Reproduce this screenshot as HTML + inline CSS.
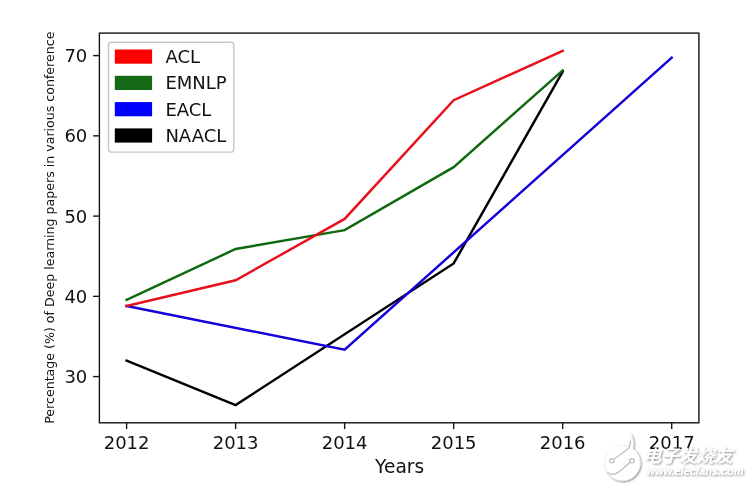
<!DOCTYPE html>
<html lang="en"><head><meta charset="utf-8"><title>Deep learning papers chart</title>
<style>html,body{margin:0;padding:0;background:#fff}body{width:752px;height:488px;overflow:hidden}svg{display:block;will-change:transform}text{font-family:"DejaVu Sans","Liberation Sans",sans-serif;fill:#111}</style></head><body>
<svg width="752" height="488" viewBox="0 0 752 488">
<defs><filter id="sh" x="-20%" y="-20%" width="150%" height="150%"><feGaussianBlur in="SourceAlpha" stdDeviation="0.8"/><feOffset dx="1.1" dy="1.1" result="o"/><feComponentTransfer><feFuncA type="linear" slope="0.5"/></feComponentTransfer><feMerge><feMergeNode/><feMergeNode in="SourceGraphic"/></feMerge></filter><filter id="sb" x="-20%" y="-20%" width="150%" height="150%"><feGaussianBlur in="SourceAlpha" stdDeviation="1.2"/><feOffset dx="1.3" dy="1.3"/><feComponentTransfer><feFuncA type="linear" slope="0.5"/></feComponentTransfer><feMerge><feMergeNode/><feMergeNode in="SourceGraphic"/></feMerge></filter></defs>
<rect width="752" height="488" fill="#ffffff"/>
<g fill="none" stroke-width="2.45" stroke-linejoin="miter" stroke-linecap="square">
<polyline stroke="#000000" points="126.60,360.55 235.62,405.09 453.66,263.45 562.68,71.65"/>
<polyline stroke="#1400d8" points="126.60,305.98 344.64,349.72 671.70,57.61"/>
<polyline stroke="#10690f" points="126.60,299.96 235.62,249.00 344.64,230.14 453.66,167.15 562.68,70.45"/>
<polyline stroke="#e8101c" points="126.60,305.98 235.62,280.30 344.64,218.91 453.66,100.14 562.68,50.79"/>
</g>
<rect x="99.40" y="33.10" width="599.50" height="389.70" fill="none" stroke="#141414" stroke-width="1.4"/>
<g stroke="#141414" stroke-width="1.4">
<line x1="126.60" y1="422.80" x2="126.60" y2="429.10"/>
<line x1="235.62" y1="422.80" x2="235.62" y2="429.10"/>
<line x1="344.64" y1="422.80" x2="344.64" y2="429.10"/>
<line x1="453.66" y1="422.80" x2="453.66" y2="429.10"/>
<line x1="562.68" y1="422.80" x2="562.68" y2="429.10"/>
<line x1="671.70" y1="422.80" x2="671.70" y2="429.10"/>
<line x1="93.10" y1="376.60" x2="99.40" y2="376.60"/>
<line x1="93.10" y1="296.35" x2="99.40" y2="296.35"/>
<line x1="93.10" y1="216.10" x2="99.40" y2="216.10"/>
<line x1="93.10" y1="135.85" x2="99.40" y2="135.85"/>
<line x1="93.10" y1="55.60" x2="99.40" y2="55.60"/>
</g>
<g font-size="18">
<text x="126.60" y="449.2" text-anchor="middle">2012</text>
<text x="235.62" y="449.2" text-anchor="middle">2013</text>
<text x="344.64" y="449.2" text-anchor="middle">2014</text>
<text x="453.66" y="449.2" text-anchor="middle">2015</text>
<text x="562.68" y="449.2" text-anchor="middle">2016</text>
<text x="671.70" y="449.2" text-anchor="middle">2017</text>
<text x="87.3" y="383.20" text-anchor="end">30</text>
<text x="87.3" y="302.95" text-anchor="end">40</text>
<text x="87.3" y="222.70" text-anchor="end">50</text>
<text x="87.3" y="142.45" text-anchor="end">60</text>
<text x="87.3" y="62.20" text-anchor="end">70</text>
<text x="399.6" y="473.3" text-anchor="middle" font-size="18.6">Years</text>
</g>
<text font-size="12.6" text-anchor="middle" transform="translate(54.3,227.7) rotate(-90)">Percentage (%) of Deep learning papers in various conference</text>
<rect x="108.5" y="42.3" width="125.3" height="109.8" rx="3.2" ry="3.2" fill="#ffffff" fill-opacity="0.8" stroke="#c8c8c8" stroke-width="1.45"/>
<rect x="114.8" y="49.50" width="37.3" height="14.2" fill="#ff0000"/>
<text x="165.4" y="62.95" font-size="18">ACL</text>
<rect x="114.8" y="75.80" width="37.3" height="14.2" fill="#156b15"/>
<text x="165.4" y="89.25" font-size="18">EMNLP</text>
<rect x="114.8" y="102.10" width="37.3" height="14.2" fill="#0000ff"/>
<text x="165.4" y="115.55" font-size="18">EACL</text>
<rect x="114.8" y="128.40" width="37.3" height="14.2" fill="#000000"/>
<text x="165.4" y="141.85" font-size="18">NAACL</text>
<g id="wm">
<g filter="url(#sb)"><path d="M622.5,445.6 C624.6,445.6 626.6,446 628.4,446.7 C629.9,444.6 630.5,441.5 630.3,438 C630.2,436 630.4,434.4 630.8,433.4 C631.6,435.6 632.6,438.6 633,441.6 C633.3,444.2 633.2,446.6 632.6,448.7 C637.1,451.9 640,457.1 640,463 A17.5,17.5 0 1 1 622.5,445.6 Z" fill="#ffffff" stroke="#f3f3f3" stroke-width="0.7"/></g>
<g fill="none" stroke="#b9b9b9" stroke-width="1.15" stroke-linecap="round" stroke-linejoin="round">
<path d="M630.4,441 C630.6,445.4 629.6,448.2 626.6,450 L613.6,459.4"/>
<circle cx="611.8" cy="460.8" r="2.2"/>
<circle cx="632" cy="460.8" r="2.2"/>
<path d="M630.2,462.3 L619.2,471.8 C616.6,474 613.4,474.8 610.8,474.2 C609.6,473.9 608.6,473.3 608,472.6"/>
</g>
<g filter="url(#sh)">
<text x="643.6" y="461.8" font-size="17.4" font-weight="500" font-style="italic" textLength="89" lengthAdjust="spacingAndGlyphs" style="font-family:'Liberation Sans','Noto Sans CJK SC',sans-serif;fill:#ffffff">电子发烧友</text>
<text x="646.6" y="475.3" font-size="11" font-weight="700" font-style="italic" textLength="96.8" lengthAdjust="spacingAndGlyphs" style="font-family:'Liberation Sans',sans-serif;fill:#ffffff">www.elecfans.com</text>
</g>
</g>
</svg></body></html>
